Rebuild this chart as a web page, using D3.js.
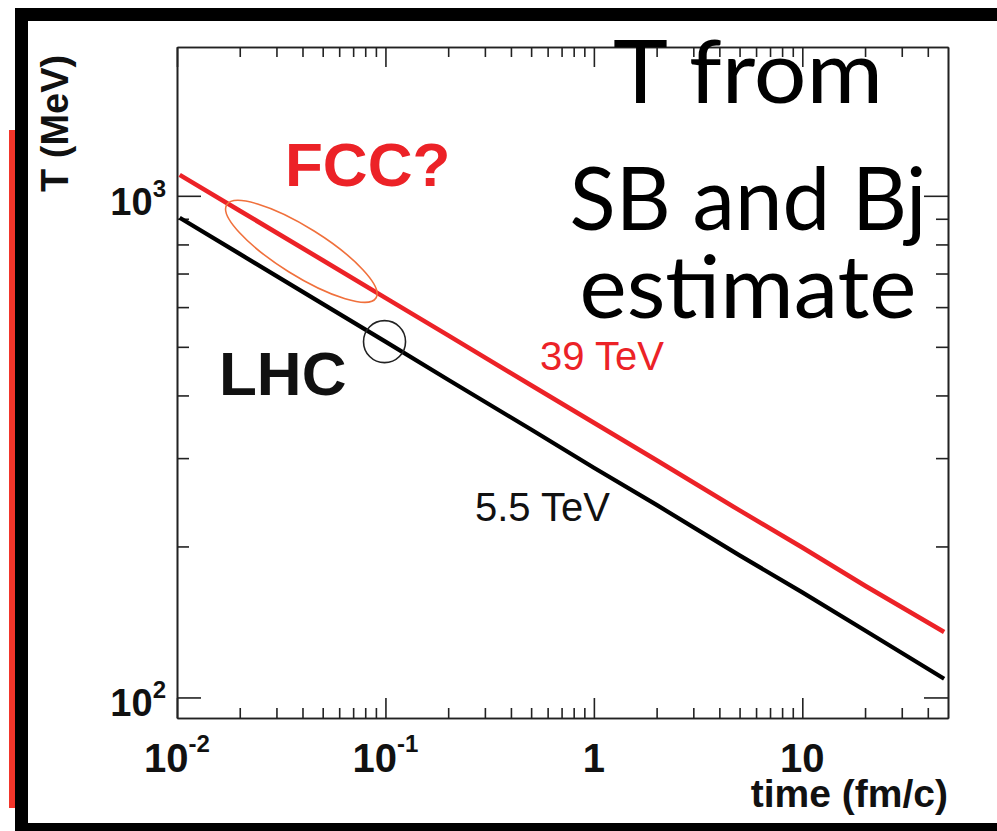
<!DOCTYPE html>
<html><head><meta charset="utf-8">
<script src="https://cdn.jsdelivr.net/npm/d3@7"></script>
<style>body{margin:0;background:#fff}svg{display:block}</style>
</head><body>
<svg id="c" width="997" height="831"></svg>
<script>
// ---- data ----
const tau  = [0.0103, 0.02, 0.05, 0.1, 0.2, 0.5, 1, 2, 5, 10, 20, 47.9];
const T39  = [1101, 934, 744, 626, 527, 419, 353, 297, 236, 199, 167, 135];
const T55  = [904, 766, 609, 512, 430, 342, 287, 242, 192, 162, 136, 109];
const xMajor = [0.01, 0.1, 1, 10];
const xMinor = [0.02,0.03,0.04,0.05,0.06,0.07,0.08,0.09,0.2,0.3,0.4,0.5,0.6,0.7,0.8,0.9,2,3,4,5,6,7,8,9,20,30,40];
const xTickLabels = [["10","-2"],["10","-1"],["1",""],["10",""]];
const yMajor = [100, 1000];
const yMinor = [200,300,400,500,600,700,800,900];
const yTickLabels = [["10","2"],["10","3"]];
const xDomain = [0.01, 50];
const yDomain = [91, 1980];
const titleLines = ["T from", "SB and Bj", "estimate"];
const seriesLabels = ["39 TeV", "5.5 TeV"];
const fccEllipse = {tau: 0.0395, T: 775};  // centre of the FCC ellipse (data coords)
const lhcCircle = {tau: 0.099, T: 512};    // LHC circle centre

const svg = d3.select("#c");
const L = 177, R = 948, Tp = 47, B = 718;
const x = d3.scaleLog().domain(xDomain).range([L, R]);
const y = d3.scaleLog().domain(yDomain).range([B, Tp]);
const RED = "#ec2227";

// outer slide frame
svg.append("rect").attr("x",9).attr("y",130).attr("width",6).attr("height",678).attr("fill","#f2352a");
svg.append("rect").attr("x",15).attr("y",8).attr("width",982).attr("height",13).attr("fill","#000");
svg.append("rect").attr("x",15).attr("y",8).attr("width",13).attr("height",823).attr("fill","#000");
svg.append("rect").attr("x",15).attr("y",823).attr("width",982).attr("height",8).attr("fill","#000");

// axes
const axStyle = g => { g.selectAll("path,line").attr("stroke","#222").attr("stroke-width",1.6); g.selectAll("text").remove(); };
svg.append("g").attr("transform",`translate(0,${B})`).call(d3.axisBottom(x).tickValues(xMajor).tickSize(-20).tickSizeOuter(0).tickFormat("")).call(axStyle);
svg.append("g").attr("transform",`translate(0,${B})`).call(d3.axisBottom(x).tickValues(xMinor).tickSize(-10).tickSizeOuter(0).tickFormat("")).call(axStyle);
svg.append("g").attr("transform",`translate(0,${Tp})`).call(d3.axisTop(x).tickValues(xMajor).tickSize(-20).tickSizeOuter(0).tickFormat("")).call(axStyle);
svg.append("g").attr("transform",`translate(0,${Tp})`).call(d3.axisTop(x).tickValues(xMinor).tickSize(-10).tickSizeOuter(0).tickFormat("")).call(axStyle);
svg.append("g").attr("transform",`translate(${L},0)`).call(d3.axisLeft(y).tickValues(yMajor).tickSize(-24).tickSizeOuter(0).tickFormat("")).call(axStyle);
svg.append("g").attr("transform",`translate(${L},0)`).call(d3.axisLeft(y).tickValues(yMinor).tickSize(-12).tickSizeOuter(0).tickFormat("")).call(axStyle);
svg.append("g").attr("transform",`translate(${R},0)`).call(d3.axisRight(y).tickValues(yMajor).tickSize(-24).tickSizeOuter(0).tickFormat("")).call(axStyle);
svg.append("g").attr("transform",`translate(${R},0)`).call(d3.axisRight(y).tickValues(yMinor).tickSize(-12).tickSizeOuter(0).tickFormat("")).call(axStyle);

// tick labels
const F = "'Liberation Sans', Arial, Helvetica, sans-serif";
xMajor.forEach((v,i) => {
  const [b,e] = xTickLabels[i];
  const t = svg.append("text").attr("x", x(v)).attr("y", 772).attr("text-anchor","middle")
    .attr("font-family",F).attr("font-weight","bold").attr("font-size",40).attr("fill","#111");
  t.append("tspan").text(b);
  if (e) t.append("tspan").attr("dy",-20).attr("font-size",24).text(e);
});
yMajor.forEach((v,i) => {
  const [b,e] = yTickLabels[i];
  const t = svg.append("text").attr("x", 166).attr("y", y(v)+19).attr("text-anchor","end")
    .attr("font-family",F).attr("font-weight","bold").attr("font-size",38).attr("fill","#111");
  t.append("tspan").text(b);
  if (e) t.append("tspan").attr("dy",-18).attr("font-size",24).text(e);
});

// axis titles
svg.append("text").attr("x",948).attr("y",807).attr("text-anchor","end")
  .attr("font-family",F).attr("font-weight","bold").attr("font-size",39).attr("fill","#111").text("time (fm/c)");
svg.append("text").attr("transform","translate(68,192) rotate(-90)").attr("text-anchor","start")
  .attr("font-family",F).attr("font-weight","bold").attr("font-size",38).attr("fill","#111").text("T (MeV)");

// curves
const line = d3.line().x(d => x(d[0])).y(d => y(d[1]));
svg.append("path").datum(tau.map((t,i)=>[t,T55[i]])).attr("d",line).attr("fill","none").attr("stroke","#000").attr("stroke-width",4.2).attr("stroke-linejoin","round");
svg.append("path").datum(tau.map((t,i)=>[t,T39[i]])).attr("d",line).attr("fill","none").attr("stroke",RED).attr("stroke-width",4.6).attr("stroke-linejoin","round");

// annotations
const ex = x(fccEllipse.tau), ey = y(fccEllipse.T);
svg.append("ellipse").attr("cx",ex).attr("cy",ey).attr("rx",88).attr("ry",24)
  .attr("transform",`rotate(32 ${ex} ${ey})`)
  .attr("fill","none").attr("stroke","#f0703c").attr("stroke-width",1.6);
svg.append("circle").attr("cx",x(lhcCircle.tau)).attr("cy",y(lhcCircle.T)).attr("r",21)
  .attr("fill","none").attr("stroke","#222").attr("stroke-width",1.6);

svg.append("text").attr("x",285).attr("y",186).attr("font-family",F).attr("font-weight","bold").attr("font-size",62).attr("fill",RED).text("FCC?");
svg.append("text").attr("x",219).attr("y",395).attr("font-family",F).attr("font-weight","bold").attr("font-size",62).attr("fill","#111").text("LHC");
svg.append("text").attr("x",540).attr("y",370).attr("font-family",F).attr("font-size",40).attr("fill",RED).text(seriesLabels[0]);
svg.append("text").attr("x",475).attr("y",521).attr("font-family",F).attr("font-size",40).attr("fill","#111").text(seriesLabels[1]);

// big title text
const tb = [[103,270],[230,357],[318,337]];
titleLines.forEach((s,i) => {
  svg.append("text").attr("x",748).attr("y",tb[i][0]).attr("text-anchor","middle")
    .attr("font-family","Lato, 'Open Sans', sans-serif").attr("font-size",88).attr("fill","#000")
    .attr("textLength",tb[i][1]).attr("lengthAdjust","spacingAndGlyphs").text(s);
});
</script>
</body></html>
